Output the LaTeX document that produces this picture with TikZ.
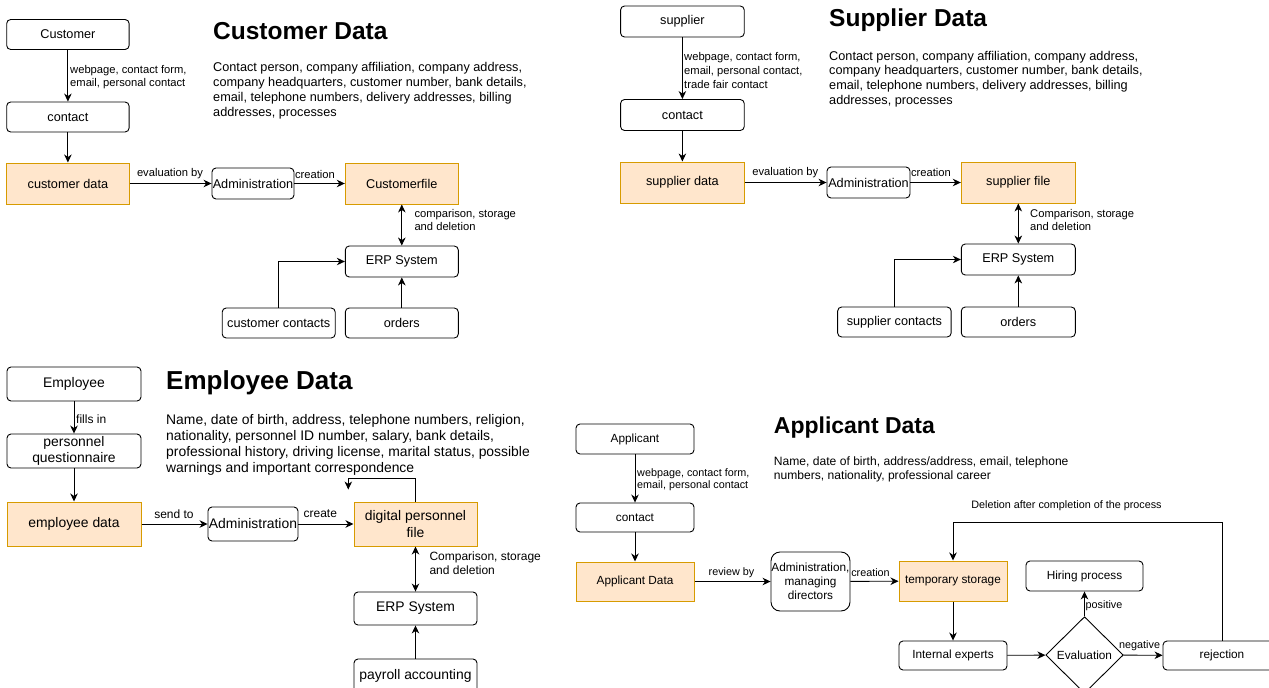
\documentclass[tikz,border=0pt]{standalone}
\usepackage{fontspec}
\setmainfont{Liberation Sans}
\usetikzlibrary{arrows.meta,shapes.geometric}
\definecolor{ofill}{HTML}{FFE6CC}
\definecolor{oline}{HTML}{D79B00}
\newcommand\fsz[2]{\fontsize{#1pt}{#2pt}\selectfont}
\begin{document}
\begin{tikzpicture}[x=1pt,y=-1pt,
  rbox/.style={draw=black, rounded corners=4pt, line width=0.9pt, inner sep=0pt, align=center, fill=white},
  obox/.style={draw=oline, fill=ofill, line width=1pt, inner sep=0pt, align=center},
  arr/.style={draw=black, line width=0.9pt, -{Stealth[length=8pt,width=7.5pt,inset=2.5pt]}},
  darr/.style={draw=black, line width=0.9pt, {Stealth[length=8pt,width=7.5pt,inset=2.5pt]}-{Stealth[length=8pt,width=7.5pt,inset=2.5pt]}},
  lbl/.style={inner sep=0pt, align=left},
  ttl/.style={inner sep=0pt, anchor=base west},
  para/.style={inner sep=0pt, anchor=base west},
  cfont/.style={font=\fsz{12.7}{15}},
  efont/.style={font=\fsz{13.9}{16.5}},
  afont/.style={font=\fsz{11.8}{14}},
  clab/.style={font=\fsz{11.2}{12.9}},
  elab/.style={font=\fsz{12}{14}},
  alab/.style={font=\fsz{10.8}{12.7}},
]
\useasboundingbox (0,0) rectangle (1269,688);
\clip (0,0) rectangle (1269,688);
\fill[white] (0,0) rectangle (1269,688);

% ================= Customer =================
\node[rbox, cfont, minimum width=122.4pt, minimum height=30pt] (cust) at (67.9,34.5) {Customer};
\node[rbox, cfont, minimum width=122.4pt, minimum height=30pt] (ccontact) at (67.9,117) {contact};
\node[obox, cfont, minimum width=122.4pt, minimum height=41pt] (cdata) at (67.9,183.5) {customer data};
\node[rbox, cfont, minimum width=82pt, minimum height=31pt] (cadmin) at (253,183.5) {Administration};
\node[obox, cfont, minimum width=113pt, minimum height=41pt] (cfile) at (401.8,183.5) {Customerfile};
\node[rbox, cfont, minimum width=113pt, minimum height=31pt] (cerp) at (401.8,261.5) {ERP System};
\node[rbox, cfont, minimum width=113pt, minimum height=30pt] (ccc) at (278.7,323) {customer contacts};
\node[rbox, cfont, minimum width=113pt, minimum height=30pt] (cord) at (401.8,323) {orders};

\draw[arr] (cust) -- (ccontact);
\node[lbl, clab, anchor=west] (clab1) at (70,77) {webpage, contact form,\\email, personal contact};
\draw[arr] (ccontact) -- (cdata);
\draw[arr] (cdata) -- (cadmin);
\node[lbl, clab] (clab2) at (170,174) {evaluation by};
\draw[arr] (cadmin) -- (cfile);
\node[lbl, clab] (clab3) at (315,174) {creation};
\draw[darr] (cfile) -- (cerp);
\node[lbl, clab, anchor=west] (clab4) at (414.3,220) {comparison, storage\\and deletion};
\draw[arr] (ccc.north) |- (cerp.west);
\draw[arr] (cord) -- (cerp);

\node[ttl, font=\bfseries\fsz{24.5}{29}] (ctitle) at (213,39) {Customer Data};
\node[para, cfont] (cp1) at (213,71.7) {Contact person, company affiliation, company address,};
\node[para, cfont] (cp2) at (213,86.5) {company headquarters, customer number, bank details,};
\node[para, cfont] (cp3) at (213,101.3) {email, telephone numbers, delivery addresses, billing};
\node[para, cfont] (cp4) at (213,116.1) {addresses, processes};

% ================= Supplier =================
\node[rbox, cfont, minimum width=123.7pt, minimum height=31pt] (sup) at (682.4,21.5) {supplier};
\node[rbox, cfont, minimum width=123.7pt, minimum height=31pt] (scontact) at (682.4,115) {contact};
\node[obox, cfont, minimum width=123.7pt, minimum height=41pt] (sdata) at (682.4,182.5) {supplier data};
\node[rbox, cfont, minimum width=83pt, minimum height=31pt] (sadmin) at (868.5,182.5) {Administration};
\node[obox, cfont, minimum width=114pt, minimum height=41pt] (sfile) at (1018.3,182.5) {supplier file};
\node[rbox, cfont, minimum width=114pt, minimum height=31pt] (serp) at (1018.3,259.5) {ERP System};
\node[rbox, cfont, minimum width=113.5pt, minimum height=30pt] (ssc) at (894.4,322) {supplier contacts};
\node[rbox, cfont, minimum width=114pt, minimum height=30pt] (sord) at (1018.3,322) {orders};

\draw[arr] (sup) -- (scontact);
\node[lbl, clab, anchor=west, font=\fsz{11.2}{14}] (slab1) at (684,70) {webpage, contact form,\\email, personal contact,\\trade fair contact};
\draw[arr] (scontact) -- (sdata);
\draw[arr] (sdata) -- (sadmin);
\node[lbl, clab] (slab2) at (785.3,172.7) {evaluation by};
\draw[arr] (sadmin) -- (sfile);
\node[lbl, clab] (slab3) at (931,172.7) {creation};
\draw[darr] (sfile) -- (serp);
\node[lbl, clab, anchor=west] (slab4) at (1030,220) {Comparison, storage\\and deletion};
\draw[arr] (ssc.north) |- (serp.west);
\draw[arr] (sord) -- (serp);

\node[ttl, font=\bfseries\fsz{24.5}{29}] (stitle) at (829,26) {Supplier Data};
\node[para, cfont] (sp1) at (829,60) {Contact person, company affiliation, company address,};
\node[para, cfont] (sp2) at (829,74.7) {company headquarters, customer number, bank details,};
\node[para, cfont] (sp3) at (829,89.4) {email, telephone numbers, delivery addresses, billing};
\node[para, cfont] (sp4) at (829,104.1) {addresses, processes};

% ================= Employee =================
\node[rbox, efont, minimum width=134pt, minimum height=34pt] (emp) at (74,384) {Employee};
\node[rbox, efont, minimum width=134pt, minimum height=34pt] (pq) at (74,451) {personnel\\questionnaire};
\node[obox, efont, minimum width=134pt, minimum height=44pt] (edata) at (74,524) {employee data};
\node[rbox, efont, minimum width=90pt, minimum height=34pt] (eadmin) at (253,524) {Administration};
\node[obox, efont, minimum width=123pt, minimum height=44pt] (efile) at (415.5,524) {digital personnel\\file};
\node[rbox, efont, minimum width=123pt, minimum height=33pt] (eerp) at (415.5,608.5) {ERP System};
\node[rbox, efont, minimum width=123pt, minimum height=33pt] (payroll) at (415.5,675.5) {payroll accounting};

\draw[arr] (emp) -- (pq);
\node[lbl, elab, anchor=west] (elab1) at (76,419.3) {fills in};
\draw[arr] (pq) -- (edata);
\draw[arr] (edata) -- (eadmin);
\node[lbl, elab] (elab2) at (174,514) {send to};
\draw[arr] (eadmin) -- (efile);
\node[lbl, elab] (elab3) at (320.3,513.3) {create};
\coordinate (eloop) at (348.3,489.5);
\draw[arr] (efile.north) -- ++(0,-22.7) -| (eloop);
\draw[darr] (efile) -- (eerp);
\node[lbl, elab, anchor=west] (elab4) at (429.3,563.7) {Comparison, storage\\and deletion};
\draw[arr] (payroll) -- (eerp);

\node[ttl, font=\bfseries\fsz{26}{31}] (etitle) at (166,389) {Employee Data};
\node[para, efont] (ep1) at (166,424.5) {Name, date of birth, address, telephone numbers, religion,};
\node[para, efont] (ep2) at (166,440.6) {nationality, personnel ID number, salary, bank details,};
\node[para, efont] (ep3) at (166,456.7) {professional history, driving license, marital status, possible};
\node[para, efont] (ep4) at (166,472.8) {warnings and important correspondence};

% ================= Applicant =================
\node[rbox, afont, minimum width=118pt, minimum height=30pt] (app) at (635,439) {Applicant};
\node[rbox, afont, minimum width=118pt, minimum height=29pt] (acontact) at (635,517.5) {contact};
\node[obox, afont, minimum width=118pt, minimum height=39pt] (adata) at (635,581.5) {Applicant Data};
\node[rbox, afont, rounded corners=9pt, minimum width=79pt, minimum height=59pt] (aadmin) at (810.5,581.5) {Administration,\\managing\\directors};
\node[obox, afont, minimum width=108pt, minimum height=40pt] (atemp) at (953,581) {temporary storage};
\node[rbox, afont, minimum width=108pt, minimum height=29pt] (aint) at (953,655.5) {Internal experts};
\node[diamond, draw=black, line width=0.9pt, inner sep=0pt, afont, minimum width=77.6pt, minimum height=76.6pt] (eval) at (1084.5,655) {Evaluation};
\node[rbox, afont, minimum width=117pt, minimum height=30pt] (hire) at (1084.5,576) {Hiring process};
\node[rbox, afont, minimum width=118pt, minimum height=29pt] (rej) at (1222,655.5) {rejection};

\draw[arr] (app) -- (acontact);
\node[lbl, alab, anchor=west] (alab1) at (637,479.7) {webpage, contact form,\\email, personal contact};
\draw[arr] (acontact) -- (adata);
\draw[arr] (adata) -- (aadmin);
\node[lbl, alab] (alab2) at (731.5,572.7) {review by};
\draw[arr] (aadmin) -- (atemp);
\node[lbl, alab] (alab3) at (870.5,572.7) {creation};
\draw[arr] (atemp) -- (aint);
\draw[arr] (aint) -- (eval);
\draw[arr] (eval) -- (hire);
\node[lbl, alab, anchor=west] (alab4) at (1085.5,606) {positive};
\draw[arr] (eval) -- (rej);
\node[lbl, alab] (alab5) at (1139.6,646) {negative};
\coordinate (atop) at (1222,522.3);
\draw[arr] (rej.north) -- (rej.north |- atop) -| (atemp.north);
\node[lbl, alab] (alab6) at (1066.5,506) {Deletion after completion of the process};

\node[ttl, font=\bfseries\fsz{23}{28}] (atitle) at (773.7,433.3) {Applicant Data};
\node[para, font=\fsz{12.1}{14}] (ap1) at (773.7,465) {Name, date of birth, address/address, email, telephone};
\node[para, font=\fsz{12.1}{14}] (ap2) at (773.7,479) {numbers, nationality, professional career};
\end{tikzpicture}
\end{document}
